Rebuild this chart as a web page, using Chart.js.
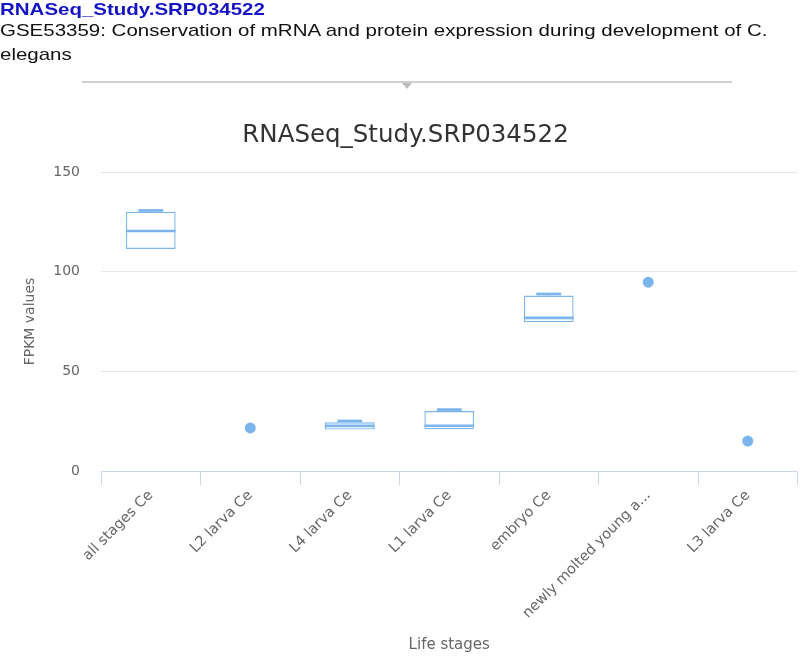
<!DOCTYPE html>
<html>
<head>
<meta charset="utf-8">
<script src="https://cdn.jsdelivr.net/npm/chart.js@4.4.1/dist/chart.umd.min.js"></script>
<style>
  body { margin: 0; background: #fff; }
  #wrap { position: relative; width: 800px; height: 659px; overflow: hidden; }
  #mycanvas { position: absolute; left: 0; top: 0; }
  .head { position: absolute; left: 0; top: 0; font-family: "Liberation Sans", Arial, sans-serif;
          transform: scaleX(1.205); transform-origin: 0 0; white-space: nowrap; }
  .study { color: #1414c4; font-weight: bold; font-size: 17px; line-height: 20px; }
  .desc { color: #111; font-size: 17px; line-height: 24px; margin-top: -1px; }
  .rule { position: absolute; left: 82px; top: 81px; width: 650px; height: 2px; background: #cfcfcf; }
  .arrow { position: absolute; left: 402px; top: 83px; width: 0; height: 0;
           border-left: 5px solid transparent; border-right: 5px solid transparent; border-top: 6px solid #bdbdbd; }
</style>
</head>
<body>
<div id="wrap">
  <canvas id="mycanvas" width="803" height="659"></canvas>
  <div class="head">
    <div class="study">RNASeq_Study.SRP034522</div>
    <div class="desc">GSE53359: Conservation of mRNA and protein expression during development of C.<br>elegans</div>
  </div>
  <div class="rule"></div>
  <div class="arrow"></div>
</div>
<script>
var stages = ['all stages Ce', 'L2 larva Ce', 'L4 larva Ce', 'L1 larva Ce', 'embryo Ce', 'newly molted young a...', 'L3 larva Ce'];
// box plot values (null where a stage has a single sample)
var lowVals    = [111.4, null, 20.8, 20.9, 74.6, null, null];
var q1Vals     = [111.4, null, 20.8, 20.9, 74.6, null, null];
var medianVals = [120.4, null, 22.6, 22.7, 76.8, null, null];
var q3Vals     = [130.1, null, 24.4, 30.1, 88.0, null, null];
var highVals   = [130.7, null, 25.1, 30.8, 88.8, null, null];
// single sample stages
var singleVals = [null, 21.6, null, null, null, 94.7, 15.0];
var yTicks = [0, 50, 100, 150];

var boxColor = '#7cb5ec';
var boxRanges = [];
for (var i in stages) {
    boxRanges.push(q1Vals[i] == null ? null : [q1Vals[i], q3Vals[i]]);
}

// draws medians, stems and whisker caps on top of the floating bars
var whiskers = {
    id: 'whiskers',
    afterDatasetsDraw: function (chart) {
        var ctx = chart.ctx;
        var xs = chart.scales.x, ys = chart.scales.y;
        var meta = chart.getDatasetMeta(0);
        ctx.save();
        ctx.strokeStyle = boxColor;
        for (var i = 0; i < stages.length; i++) {
            if (q1Vals[i] == null) continue;
            var cx = xs.getPixelForValue(i);
            var w = meta.data[i].width;
            var yMed = ys.getPixelForValue(medianVals[i]);
            var yHi = ys.getPixelForValue(highVals[i]);
            var yLo = ys.getPixelForValue(lowVals[i]);
            var yQ3 = ys.getPixelForValue(q3Vals[i]);
            var yQ1 = ys.getPixelForValue(q1Vals[i]);
            // stems
            ctx.lineWidth = 1.4;
            ctx.beginPath();
            ctx.moveTo(cx, yQ3); ctx.lineTo(cx, yHi);
            ctx.moveTo(cx, yQ1); ctx.lineTo(cx, yLo);
            ctx.stroke();
            // caps
            ctx.lineWidth = 2.7;
            ctx.beginPath();
            ctx.moveTo(cx - w / 4, yHi); ctx.lineTo(cx + w / 4, yHi);
            if (yLo - yQ1 > 1) { ctx.moveTo(cx - w / 4, yLo); ctx.lineTo(cx + w / 4, yLo); }
            ctx.stroke();
            // median
            ctx.beginPath();
            ctx.moveTo(cx - w / 2, yMed); ctx.lineTo(cx + w / 2, yMed);
            ctx.stroke();
        }
        ctx.restore();
    }
};

var ctx = document.getElementById('mycanvas');
var boxChart = new Chart(ctx, {
    type: 'bar',
    data: {
        labels: stages,
        datasets: [{
            label: 'box',
            data: boxRanges,
            backgroundColor: '#ffffff',
            borderColor: boxColor,
            borderWidth: 1.4,
            borderSkipped: false,
            categoryPercentage: 1,
            barPercentage: 0.5
        }, {
            type: 'line',
            label: 'single',
            data: singleVals,
            showLine: false,
            pointRadius: 5.5,
            pointBackgroundColor: boxColor,
            pointBorderWidth: 0
        }]
    },
    options: {
        responsive: false,
        animation: false,
        layout: { padding: { top: 120.6, left: 8, right: 0, bottom: 0 } },
        plugins: {
            legend: { display: false },
            tooltip: { enabled: false },
            title: {
                display: true,
                text: 'RNASeq_Study.SRP034522',
                color: '#333333',
                font: { family: 'DejaVu Sans', size: 24.5, weight: 'normal' },
                padding: { top: 0, bottom: 22 }
            }
        },
        scales: {
            x: {
                grid: { display: true, drawOnChartArea: false, drawTicks: true, tickLength: 14, color: '#ccd6eb', offset: true },
                border: { display: true, color: '#ccd6eb', width: 1 },
                ticks: {
                    color: '#666666',
                    font: { family: 'DejaVu Sans', size: 14.4 },
                    autoSkip: false,
                    maxRotation: 45,
                    minRotation: 45,
                    padding: 2
                },
                title: {
                    display: true,
                    text: 'Life stages',
                    color: '#666666',
                    font: { family: 'DejaVu Sans', size: 15 },
                    padding: { top: 0, bottom: 5 }
                },
                afterFit: function (scale) { scale.height = 188; }
            },
            y: {
                min: 0,
                max: 150,
                afterBuildTicks: function (scale) {
                    scale.ticks = yTicks.map(function (v) { return { value: v }; });
                },
                grid: { color: '#e6e6e6', drawTicks: false },
                border: { display: false },
                ticks: {
                    color: '#666666',
                    font: { family: 'DejaVu Sans', size: 14 },
                    padding: 21
                },
                title: {
                    display: true,
                    text: 'FPKM values',
                    color: '#666666',
                    font: { family: 'DejaVu Sans', size: 14 },
                    padding: { top: 13.6, bottom: 0 }
                },
                afterFit: function (scale) { scale.width = 93; }
            }
        }
    },
    plugins: [whiskers]
});
</script>
</body>
</html>
